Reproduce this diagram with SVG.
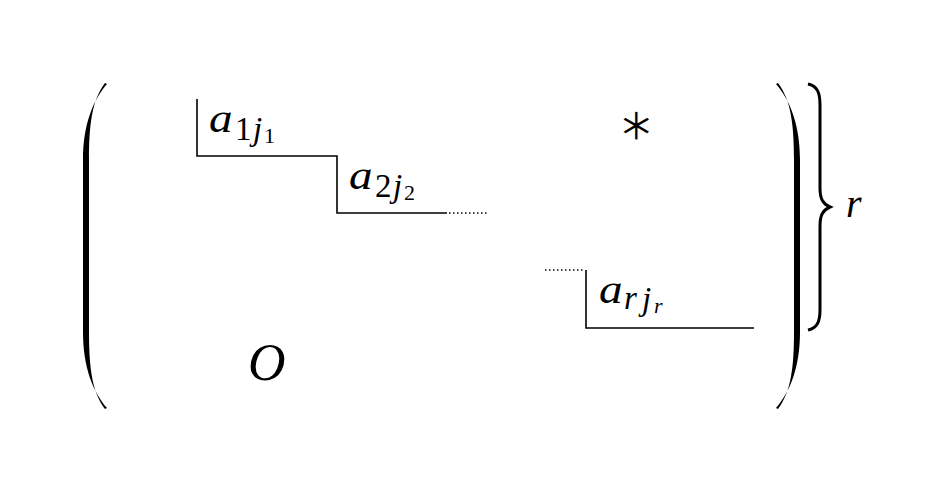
<svg xmlns="http://www.w3.org/2000/svg" width="950" height="492" viewBox="0 0 950 492">
<style>
.ln{stroke:#000;stroke-width:1.6;fill:none}
.dot{stroke:#000;stroke-width:1.4;fill:none;stroke-dasharray:1.5 2.5}
.m{font-family:"Liberation Serif","DejaVu Serif",serif;font-style:italic;fill:#000}
.n{font-style:normal}
.a{font-size:40px}
.s{font-size:33px}
.ss{font-size:22px}
</style>
<rect width="950" height="492" fill="#fff"/>
<g id="left-paren">
<path d="M107,84 C93,100 83,125 83,160 L83,332 C83,367 93,392 107,408 L105,409 C92,392 89,367 89,332 L89,160 C89,125 92,100 105,83 Z" fill="#000"/>
</g>
<g id="right-paren">
<path d="M776,84 C790,100 800,125 800,160 L800,332 C800,367 790,392 776,408 L778,409 C791,392 794,367 794,332 L794,160 C794,125 791,100 778,83 Z" fill="#000"/>
</g>
<g id="brace">
<path d="M808,84 C817,86 820,92 820,105 L820,188 C820,199 823,204 830,207 C823,210 820,215 820,226 L820,310 C820,322 817,328 808,330" stroke="#000" stroke-width="3" fill="none"/>
<text class="m" x="846" y="217" font-size="40">r</text>
</g>
<g id="staircase">
<path class="ln" d="M197,99 V156 H337 V213 H447"/>
<path class="dot" d="M449,213 H488"/>
<path class="dot" d="M545,270 H585"/>
<path class="ln" d="M586,270 V328 H754"/>
</g>
<g id="a1">
<text class="m a" transform="translate(209,132) scale(1.18,1)">a</text>
<text class="m s"><tspan class="n" x="235" y="140">1</tspan><tspan x="253" y="140">j</tspan><tspan class="n ss" x="264" y="143">1</tspan></text>
</g>
<g id="a2">
<text class="m a" transform="translate(349,189) scale(1.18,1)">a</text>
<text class="m s"><tspan class="n" x="375" y="197">2</tspan><tspan x="393" y="197">j</tspan><tspan class="n ss" x="404" y="200">2</tspan></text>
</g>
<g id="ar">
<text class="m a" transform="translate(599,303) scale(1.18,1)">a</text>
<text class="m s"><tspan x="624" y="309">r</tspan><tspan x="642" y="310">j</tspan><tspan class="ss" x="654" y="313">r</tspan></text>
</g>
<g id="star">
<text x="636" y="140" font-size="46" text-anchor="middle" font-family="'Liberation Serif',serif" fill="#000" stroke="#fff" stroke-width="1.2">∗</text>
</g>
<g id="zero">
<text class="m" x="248" y="380" font-size="52">O</text>
</g>
</svg>
